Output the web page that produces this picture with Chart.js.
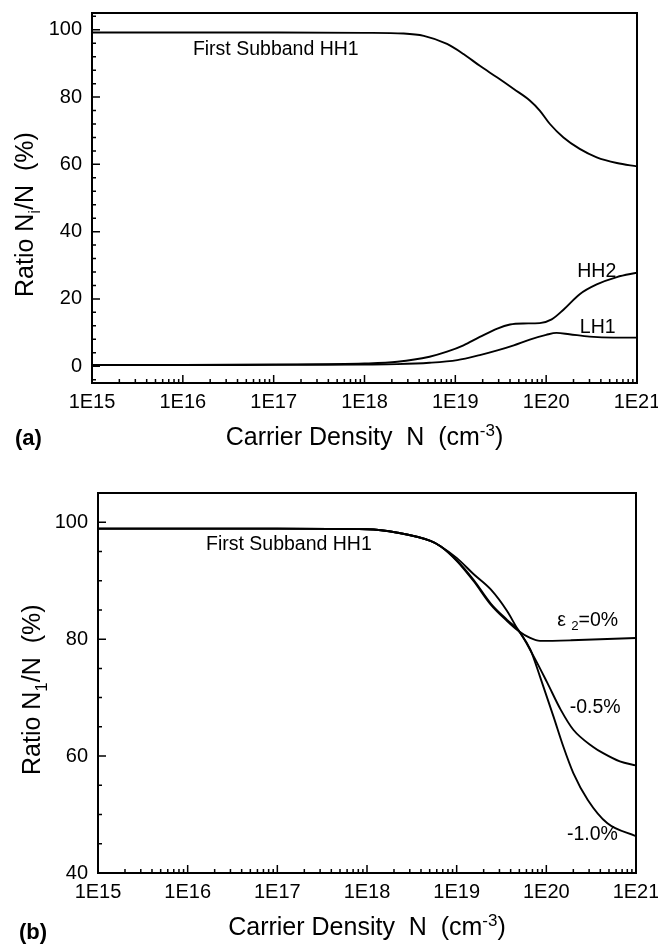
<!DOCTYPE html>
<html>
<head>
<meta charset="utf-8">
<title>Subband occupation ratio vs carrier density</title>
<script src="https://cdn.jsdelivr.net/npm/chart.js@4.4.0/dist/chart.umd.min.js"></script>
<style>
  html, body { margin: 0; padding: 0; background: #fff; }
  #wrap { position: relative; width: 658px; height: 948px; }
  .panel { position: absolute; left: 0; width: 658px; }
  #pa { top: 0; height: 460px; }
  #pb { top: 460px; height: 488px; }
</style>
</head>
<body>
<div id="wrap">
  <div class="panel" id="pa"><canvas id="chartA" width="658" height="460"></canvas></div>
  <div class="panel" id="pb"><canvas id="chartB" width="658" height="488"></canvas></div>
</div>
<script>
// ---- shared axis values ----
const xTickValues = [1e15, 1e16, 1e17, 1e18, 1e19, 1e20, 1e21];
const xTickLabels = ['1E15', '1E16', '1E17', '1E18', '1E19', '1E20', '1E21'];
const xMinorMultipliers = [2, 3, 4, 5, 6, 7, 8, 9];
const topYTicks = [0, 20, 40, 60, 80, 100];
const bottomYTicks = [40, 60, 80, 100];

// ---- panel (a): subband ratios, unstrained ----
const hh1N     = [1e15, 1e16, 1e17, 1e18, 2.7e18, 4.5e18, 8.1e18, 1.23e19, 1.86e19, 2.9e19, 4.4e19, 6.6e19, 8.5e19, 1.1e20, 1.55e20, 2.34e20, 3.6e20, 6e20, 1e21];
const hh1Ratio = [99.2, 99.2, 99.2, 99.1, 98.9, 98.2, 95.8, 92.8, 89.3, 85.8, 82.4, 79.0, 76.0, 72.0, 68.0, 64.6, 62.1, 60.4, 59.4];

const hh2N     = [1e15, 1e16, 1e17, 1e18, 2.3e18, 5.2e18, 8.1e18, 1.23e19, 1.86e19, 2.9e19, 4e19, 5.6e19, 8.5e19, 1.15e20, 1.55e20, 2.34e20, 3.6e20, 6e20, 1e21];
const hh2Ratio = [0.4, 0.4, 0.5, 0.8, 1.3, 2.8, 4.3, 6.2, 8.7, 11.2, 12.4, 12.7, 12.8, 13.9, 16.8, 21.4, 24.3, 26.5, 27.8];

const lh1N     = [1e15, 1e16, 1e17, 1e18, 2.3e18, 5.2e18, 1.05e19, 1.86e19, 2.9e19, 4.4e19, 6.6e19, 1e20, 1.3e20, 1.8e20, 3e20, 5.5e20, 1e21];
const lh1Ratio = [0.3, 0.3, 0.4, 0.5, 0.6, 1.0, 1.8, 3.3, 4.7, 6.2, 7.9, 9.3, 9.9, 9.5, 8.8, 8.5, 8.5];

// ---- panel (b): first subband HH1 for three strain values ----
const eps0N     = [1e15, 1e16, 1e17, 1e18, 2.2e18, 5.1e18, 6.6e18, 1e19, 1.55e19, 2.4e19, 3.65e19, 4.9e19, 6.6e19, 8.5e19, 1.9e20, 1e21];
const eps0Ratio = [98.9, 98.9, 98.9, 98.8, 98.2, 96.8, 95.9, 93.4, 89.9, 85.9, 83.1, 81.4, 80.2, 79.7, 79.8, 80.2];

const eps05N     = [1e15, 1e16, 1e17, 1e18, 2.2e18, 5.1e18, 6.6e18, 1e19, 1.55e19, 2.4e19, 3.65e19, 4.9e19, 7.2e19, 1.02e20, 1.45e20, 2e20, 3.3e20, 4.3e20, 6.6e20, 1e21];
const eps05Ratio = [98.9, 98.9, 98.9, 98.8, 98.2, 96.8, 95.9, 93.5, 90.1, 86.1, 83.3, 81.5, 77.1, 72.6, 67.9, 64.5, 61.6, 60.5, 59.1, 58.4];

const eps10N     = [1e15, 1e16, 1e17, 1e18, 2.2e18, 5.1e18, 6.6e18, 1e19, 1.55e19, 2.4e19, 3.65e19, 4.7e19, 6.6e19, 8.5e19, 1.2e20, 1.55e20, 2e20, 2.9e20, 4.8e20, 1e21];
const eps10Ratio = [98.9, 98.9, 98.9, 98.8, 98.2, 96.8, 95.9, 93.9, 91.1, 88.5, 84.8, 81.9, 78.3, 73.6, 66.8, 61.6, 57.1, 52.5, 48.5, 46.3];

const FONT = '"Liberation Sans", Arial, Helvetica, sans-serif';

function points(ns, vals) {
  return ns.map((n, i) => ({ x: n, y: vals[i] }));
}

function curve(ns, vals) {
  return {
    data: points(ns, vals),
    borderColor: '#000',
    borderWidth: 1.9,
    pointRadius: 0,
    fill: false,
    cubicInterpolationMode: 'monotone'
  };
}

// width of a sequence of text runs (normal / sub / sup)
function runsWidth(ctx, runs, size) {
  let w = 0;
  for (const r of runs) {
    const s = r.sub || r.sup ? size * 0.68 : size;
    ctx.font = (r.bold ? 'bold ' : '') + s + 'px ' + FONT;
    w += ctx.measureText(r.t).width;
  }
  return w;
}
// draws the runs left to right from x on baseline y
function drawRuns(ctx, runs, x, y, size) {
  let cx = x;
  for (const r of runs) {
    const s = r.sub || r.sup ? size * 0.68 : size;
    ctx.font = (r.bold ? 'bold ' : '') + s + 'px ' + FONT;
    const dy = r.sub ? size * 0.28 : (r.sup ? -size * 0.38 : 0);
    ctx.fillText(r.t, cx, y + dy);
    cx += ctx.measureText(r.t).width;
  }
}

// frame, inward tick marks, axis titles and curve labels
const figurePlugin = {
  id: 'figure',
  afterDatasetsDraw(chart, args, o) {
    const { ctx, chartArea: a, scales: { x, y } } = chart;
    ctx.save();
    ctx.strokeStyle = '#000';
    ctx.fillStyle = '#000';

    // plot frame
    ctx.lineWidth = 2;
    ctx.strokeRect(a.left, a.top, a.right - a.left, a.bottom - a.top);

    // x ticks along the bottom edge, pointing inward
    ctx.lineWidth = 1.5;
    ctx.beginPath();
    xTickValues.forEach((v, i) => {
      const px = x.getPixelForValue(v);
      ctx.moveTo(px, a.bottom);
      ctx.lineTo(px, a.bottom - o.majorLen);
      if (i < xTickValues.length - 1) {
        xMinorMultipliers.forEach(m => {
          const mx = x.getPixelForValue(v * m);
          ctx.moveTo(mx, a.bottom);
          ctx.lineTo(mx, a.bottom - o.minorLen);
        });
      }
    });
    // y ticks along the left edge, pointing inward
    for (let v = Math.ceil(y.min / o.yMinorStep) * o.yMinorStep; v <= y.max; v += o.yMinorStep) {
      const py = y.getPixelForValue(v);
      const len = o.yMajors.includes(v) ? o.majorLen : o.minorLen;
      ctx.moveTo(a.left, py);
      ctx.lineTo(a.left + len, py);
    }
    ctx.stroke();

    // x-axis title, centred under the plot
    ctx.textBaseline = 'alphabetic';
    ctx.textAlign = 'left';
    const xt = o.xTitle;
    const xw = runsWidth(ctx, xt.runs, xt.size);
    drawRuns(ctx, xt.runs, (a.left + a.right) / 2 - xw / 2, a.bottom + xt.offset, xt.size);

    // panel tag
    drawRuns(ctx, [{ t: o.tag.text, bold: true }], o.tag.x, a.bottom + o.tag.offset, o.tag.size);

    // y-axis title, rotated
    const yt = o.yTitle;
    ctx.save();
    ctx.translate(yt.x, yt.y);
    ctx.rotate(-Math.PI / 2);
    drawRuns(ctx, yt.runs, 0, 0, yt.size);
    ctx.restore();

    // curve labels, anchored in data coordinates
    ctx.textBaseline = 'middle';
    o.labels.forEach(l => {
      drawRuns(ctx, l.runs, x.getPixelForValue(l.n), y.getPixelForValue(l.v), o.labelSize);
    });
    ctx.restore();
  }
};

function makeChart(id, datasets, yMin, yMajors, plotPad, yWidth, xHeight, fig) {
  return new Chart(document.getElementById(id), {
    type: 'line',
    data: { datasets },
    plugins: [figurePlugin],
    options: {
      responsive: false,
      animation: false,
      events: [],
      layout: { padding: plotPad },
      plugins: { legend: { display: false }, tooltip: { enabled: false }, figure: fig },
      scales: {
        x: {
          type: 'logarithmic',
          min: 1e15,
          max: 1e21,
          border: { display: false },
          grid: { display: false, drawTicks: false },
          afterBuildTicks: s => { s.ticks = xTickValues.map(v => ({ value: v })); },
          afterFit: s => { s.height = xHeight; s.paddingLeft = 0; s.paddingRight = 0; },
          ticks: {
            autoSkip: false,
            maxRotation: 0,
            padding: 7,
            color: '#000',
            font: { family: FONT, size: 20 },
            callback: (v, i) => xTickLabels[i]
          }
        },
        y: {
          type: 'linear',
          min: yMin,
          max: 105,
          border: { display: false },
          grid: { display: false, drawTicks: false },
          afterBuildTicks: s => { s.ticks = yMajors.map(v => ({ value: v })); },
          afterFit: s => { s.width = yWidth; s.paddingTop = 0; s.paddingBottom = 0; },
          ticks: {
            padding: 10,
            color: '#000',
            font: { family: FONT, size: 20 },
            callback: v => String(v)
          }
        }
      }
    }
  });
}

const xTitleRuns = [{ t: 'Carrier Density  N  (cm' }, { t: '-3', sup: true }, { t: ')' }];

makeChart('chartA',
  [curve(hh1N, hh1Ratio), curve(hh2N, hh2Ratio), curve(lh1N, lh1Ratio)],
  -5, topYTicks, { top: 13, right: 21, left: 0, bottom: 0 }, 92, 77,
  {
    majorLen: 8, minorLen: 4, yMinorStep: 4, yMajors: topYTicks,
    xTitle: { runs: xTitleRuns, size: 25, offset: 62 },
    tag: { text: '(a)', x: 15, offset: 62, size: 22 },
    yTitle: { runs: [{ t: 'Ratio N' }, { t: 'i', sub: true }, { t: '/N  (%)' }], size: 25, x: 33, y: 297 },
    labelSize: 19.5,
    labels: [
      { runs: [{ t: 'First Subband HH1' }], n: 1.29e16, v: 94.1 },
      { runs: [{ t: 'HH2' }], n: 2.2e20, v: 28.0 },
      { runs: [{ t: 'LH1' }], n: 2.35e20, v: 11.4 }
    ]
  });

makeChart('chartB',
  [curve(eps0N, eps0Ratio), curve(eps05N, eps05Ratio), curve(eps10N, eps10Ratio)],
  40, bottomYTicks, { top: 33, right: 22, left: 0, bottom: 0 }, 98, 75,
  {
    majorLen: 8, minorLen: 4, yMinorStep: 5, yMajors: bottomYTicks,
    xTitle: { runs: xTitleRuns, size: 25, offset: 62 },
    tag: { text: '(b)', x: 19, offset: 66, size: 22 },
    yTitle: { runs: [{ t: 'Ratio N' }, { t: '1', sub: true }, { t: '/N  (%)' }], size: 25, x: 40, y: 315 },
    labelSize: 19.5,
    labels: [
      { runs: [{ t: 'First Subband HH1' }], n: 1.6e16, v: 96.1 },
      { runs: [{ t: 'ε ' }, { t: '2', sub: true }, { t: '=0%' }], n: 1.32e20, v: 83.2 },
      { runs: [{ t: '-0.5%' }], n: 1.82e20, v: 68.3 },
      { runs: [{ t: '-1.0%' }], n: 1.7e20, v: 46.5 }
    ]
  });
</script>
</body>
</html>
